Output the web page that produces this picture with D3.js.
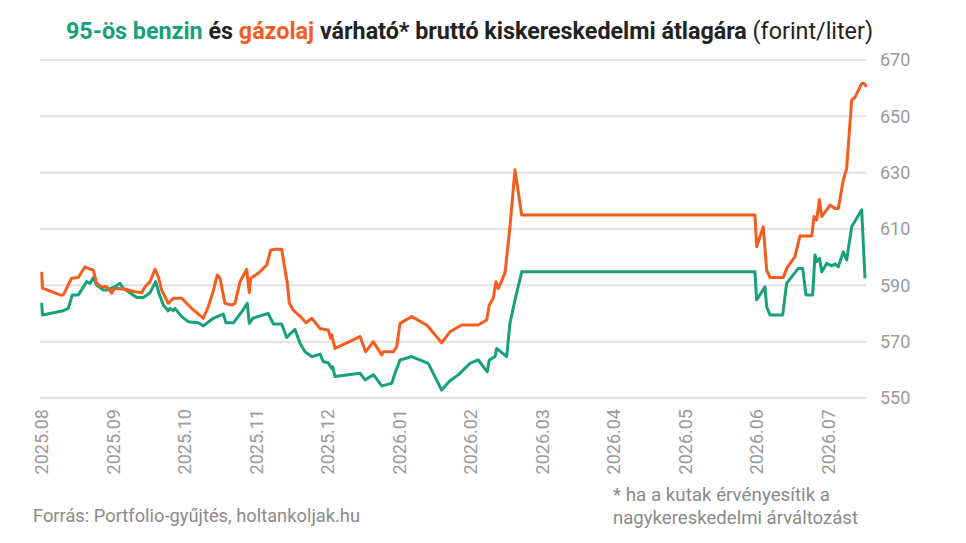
<!DOCTYPE html>
<html>
<head>
<meta charset="utf-8">
<script src="https://cdn.jsdelivr.net/npm/d3@7"></script>
<style>
  body { margin: 0; background: #fff; }
  svg { display: block; font-family: Roboto, "Noto Sans", sans-serif; }
</style>
</head>
<body>
<script>
(function() {
    'use strict';

    // honap-cimkek (egyenlo kozokkel, 0 = 2025.08)
    var monthLabels = ["2025.08", "2025.09", "2025.10", "2025.11", "2025.12", "2026.01",
                       "2026.02", "2026.03", "2026.04", "2026.05", "2026.06", "2026.07"];
    var yTicks = [550, 570, 590, 610, 630, 650, 670];

    // gazolaj: honap-index (tort) es ar
    var dieselT = [0, 0.01, 0.256, 0.302, 0.419, 0.512, 0.605, 0.675, 0.721, 0.769, 0.839, 0.908,
        0.978, 1.024, 1.164, 1.304, 1.398, 1.444, 1.514, 1.584, 1.630, 1.677, 1.769, 1.839, 1.957,
        2.096, 2.259, 2.328, 2.398, 2.454, 2.492, 2.562, 2.655, 2.702, 2.772, 2.865, 2.901, 2.921,
        3.027, 3.097, 3.145, 3.201, 3.261, 3.354, 3.433, 3.461, 3.516, 3.610, 3.694, 3.774, 3.890,
        4.006, 4.039, 4.053, 4.099, 4.449, 4.528, 4.635, 4.752, 4.774, 4.914, 4.962, 5.008, 5.171,
        5.381, 5.590, 5.706, 5.870, 6.102, 6.219, 6.256, 6.312, 6.349, 6.382, 6.475, 6.545, 6.615,
        6.709, 9.969, 9.993, 10.085, 10.133, 10.179, 10.365, 10.412, 10.528, 10.598, 10.762, 10.795,
        10.832, 10.870, 10.903, 11.019, 11.089, 11.134, 11.204, 11.251, 11.321, 11.367, 11.461,
        11.493, 11.531];
    var dieselV = [594.8, 589, 586.6, 586.6, 592.5, 592.8, 596.6, 595.7, 595.4, 590.7, 589.5, 589.5,
        587.2, 589, 588.6, 587.7, 587.4, 589.5, 591.3, 595.7, 593, 588.3, 583.6, 585.4, 585.4,
        581.8, 578.3, 582.4, 588, 593.7, 592.5, 583.6, 583, 583.6, 591.3, 595.7, 587.4, 592.5,
        594.3, 596, 597.2, 602.5, 602.8, 602.8, 590.7, 583.6, 581.2, 579.1, 576.7, 578.3, 574.7,
        574.1, 571.2, 572.4, 567.6, 571.8, 566.4, 570, 565.3, 566.4, 566.4, 568.2, 576.5, 578.9,
        575.9, 569.6, 573.5, 575.9, 575.9, 577.7, 583, 585.4, 591.3, 588.9, 594.3, 610.8, 631,
        615, 615, 603.7, 610.8, 595.4, 592.8, 592.8, 596, 600.2, 607.5, 607.5, 614.4,
        613.2, 620.5, 614.4, 618.5, 617.3, 617.3, 627.4, 631.5, 655.8, 656.7, 661.7,
        661.7, 660.5];

    // 95-os benzin
    var petrolT = [0, 0.01, 0.302, 0.372, 0.428, 0.512, 0.629, 0.675, 0.721, 0.769, 0.861, 0.908,
        1.024, 1.094, 1.140, 1.328, 1.420, 1.514, 1.593, 1.639, 1.700, 1.769, 1.793, 1.839, 1.863,
        1.957, 2.049, 2.189, 2.259, 2.398, 2.538, 2.576, 2.678, 2.795, 2.873, 2.901, 2.949, 3.097,
        3.167, 3.237, 3.354, 3.424, 3.540, 3.610, 3.680, 3.774, 3.890, 3.936, 4.006, 4.053, 4.067,
        4.099, 4.449, 4.518, 4.635, 4.658, 4.752, 4.892, 4.938, 5.008, 5.171, 5.403, 5.590, 5.706,
        5.822, 5.986, 6.102, 6.228, 6.256, 6.336, 6.359, 6.499, 6.545, 6.615, 6.709, 9.969, 9.993,
        10.109, 10.133, 10.179, 10.357, 10.412, 10.575, 10.636, 10.682, 10.776, 10.808, 10.832,
        10.870, 10.903, 10.973, 11.043, 11.089, 11.134, 11.204, 11.251, 11.321, 11.461, 11.507];
    var petrolV = [583.8, 579.5, 581, 581.8, 586.6, 586.6, 591.3, 590.7, 592.8, 590.1, 588.3, 588.3,
        589.5, 590.7, 589, 585.7, 585.7, 587.4, 591.3, 587.2, 583, 580.9, 581.8, 581, 581.8,
        578.9, 577.1, 576.7, 575.6, 578.3, 579.8, 576.7, 576.7, 580.6, 583.6, 576.5, 578.3, 579.5,
        580, 576.3, 576.3, 571.5, 574.4, 569.4, 566.4, 564.7, 565.6, 562.9, 562.5, 560.5, 561.1,
        557.6, 558.8, 556.4, 558.2, 557.6, 554.3, 555.2, 558.8, 563.5, 564.7, 562.3, 552.8, 556.1,
        558.2, 562.3, 563.5, 559.3, 563.5, 564.7, 567.6, 564.7, 576.5, 584.8, 594.8, 594.8, 584.8,
        589.5, 582.4, 579.5, 579.5, 590.7, 596, 596, 586.6, 586.6, 600.8, 598.4,
        599.6, 594.8, 597.8, 596.9, 597.6, 596.6, 601.9, 599, 610.8, 616.8, 592.5];

    var green = "#16a17a";
    var orange = "#f45d1f";

    var w = 966;
    var h = 543;
    var svg = d3.select("body")
                .append("svg")
                .attr("width", w)
                .attr("height", h);

    var x = d3.scaleLinear().domain([0, 11.531]).range([41.7, 866.7]);
    var y = d3.scaleLinear().domain([550, 670]).range([398, 60]);

    // racsvonalak
    svg.append("g")
       .selectAll("line")
       .data(yTicks)
       .enter()
       .append("line")
       .attr("x1", 40)
       .attr("x2", 866)
       .attr("y1", function(d) { return y(d); })
       .attr("y2", function(d) { return y(d); })
       .attr("stroke", "#e2e2e2")
       .attr("stroke-width", 2);

    svg.append("g")
       .selectAll("text")
       .data(yTicks)
       .enter()
       .append("text")
       .attr("x", 880)
       .attr("y", function(d) { return y(d); })
       .attr("dy", "0.35em")
       .attr("fill", "#9a9a9a")
       .style("font-size", "18px")
       .text(function(d) { return d; });

    svg.append("g")
       .selectAll("text")
       .data(monthLabels)
       .enter()
       .append("text")
       .attr("transform", function(d, i) {
           return "translate(" + x(i) + ",409) rotate(-90)";
       })
       .attr("dy", "0.35em")
       .attr("text-anchor", "end")
       .attr("fill", "#9a9a9a")
       .style("font-size", "18px")
       .text(function(d) { return d; });

    var line = d3.line()
                 .x(function(d) { return x(d[0]); })
                 .y(function(d) { return y(d[1]); });

    var petrol = d3.zip(petrolT, petrolV);
    var diesel = d3.zip(dieselT, dieselV);

    svg.append("path")
       .datum(petrol)
       .attr("d", line)
       .attr("fill", "none")
       .attr("stroke", green)
       .attr("stroke-width", 3)
       .attr("stroke-linejoin", "round");

    svg.append("path")
       .datum(diesel)
       .attr("d", line)
       .attr("fill", "none")
       .attr("stroke", orange)
       .attr("stroke-width", 3)
       .attr("stroke-linejoin", "round");

    // cim (az eredeti keskenyitett betuvel keszult, ezert nyujtva/nyomva)
    var title = svg.append("text")
                   .attr("x", 66)
                   .attr("y", 39)
                   .attr("textLength", 807)
                   .attr("lengthAdjust", "spacingAndGlyphs")
                   .style("font-size", "23px")
                   .style("font-weight", "bold")
                   .attr("fill", "#222");
    title.append("tspan").attr("fill", green).text("95-ös benzin");
    title.append("tspan").text(" és ");
    title.append("tspan").attr("fill", orange).text("gázolaj");
    title.append("tspan").text(" várható* bruttó kiskereskedelmi átlagára ");
    title.append("tspan").style("font-weight", "normal").text("(forint/liter)");

    // forras, labjegyzet
    svg.append("text")
       .attr("x", 33)
       .attr("y", 522)
       .attr("textLength", 327)
       .attr("lengthAdjust", "spacingAndGlyphs")
       .attr("fill", "#8a8a8a")
       .style("font-size", "18px")
       .text("Forrás: Portfolio-gyűjtés, holtankoljak.hu");

    var notes = ["* ha a kutak érvényesítik a", "nagykereskedelmi árváltozást"];
    var noteW = [217, 245];
    svg.append("g")
       .selectAll("text")
       .data(notes)
       .enter()
       .append("text")
       .attr("x", 613)
       .attr("y", function(d, i) { return 501 + i * 23; })
       .attr("textLength", function(d, i) { return noteW[i]; })
       .attr("lengthAdjust", "spacingAndGlyphs")
       .attr("fill", "#8a8a8a")
       .style("font-size", "18px")
       .text(function(d) { return d; });
}());
</script>
</body>
</html>
